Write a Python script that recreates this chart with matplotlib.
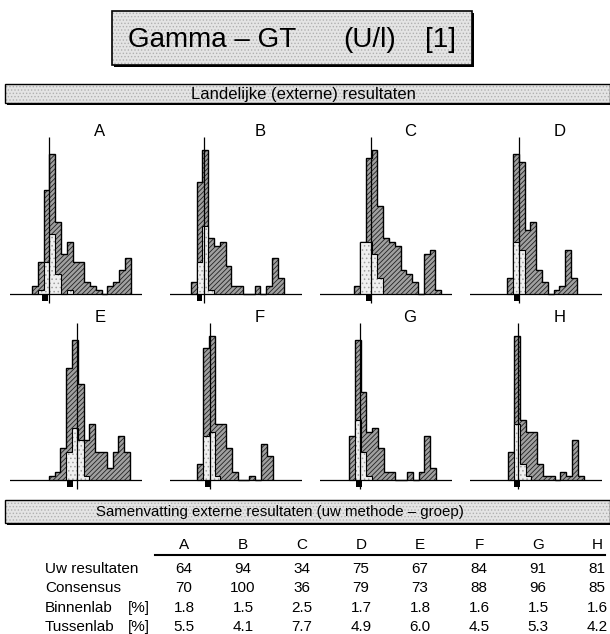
import numpy as np
import matplotlib
matplotlib.use("Agg")
import matplotlib.pyplot as plt
from matplotlib.patches import Rectangle

plt.rcParams['font.family'] = ['Liberation Sans', 'DejaVu Sans']
plt.rcParams['hatch.linewidth'] = 0.6

# ---- data ----
panels = ['A', 'B', 'C', 'D', 'E', 'F', 'G', 'H']

# national histogram (number of labs per bin)
national = {
    'A': [2, 8, 26, 35, 18, 10, 13, 8, 8, 3, 2, 1, 0, 2, 3, 6, 9],
    'B': [3, 28, 36, 14, 12, 13, 7, 2, 2, 0, 0, 2, 0, 2, 9, 4],
    'C': [2, 13, 34, 36, 22, 14, 13, 12, 6, 5, 3, 0, 10, 11, 1],
    'D': [4, 35, 33, 16, 18, 6, 3, 0, 1, 2, 11, 4],
    'E': [1, 2, 8, 28, 35, 24, 10, 14, 7, 7, 3, 7, 11, 7],
    'F': [4, 33, 36, 14, 14, 8, 2, 0, 0, 1, 0, 9, 6],
    'G': [11, 35, 22, 12, 13, 8, 2, 2, 0, 0, 2, 0, 2, 11, 3],
    'H': [7, 36, 15, 12, 12, 4, 1, 1, 0, 2, 1, 10, 1],
}
# own method group histogram
group = {
    'A': [0, 1, 8, 15, 5, 0, 1],
    'B': [0, 8, 17, 1],
    'C': [0, 13, 13, 10, 4],
    'D': [0, 13, 11],
    'E': [0, 0, 0, 7, 13, 10, 1],
    'F': [0, 11, 12, 1],
    'G': [0, 15, 7, 1],
    'H': [0, 14, 4, 1],
}
# consensus and own result, in bin units
consensus_pos = [3.0, 2.24, 2.86, 2.06, 4.9, 2.18, 1.88, 1.76]
own_pos = [2.3, 1.5, 2.57, 1.65, 3.6, 1.76, 1.7, 1.47]

row_labels = ['Uw resultaten', 'Consensus', 'Binnenlab', 'Tussenlab']
uw_resultaten = ['64', '94', '34', '75', '67', '84', '91', '81']
consensus = ['70', '100', '36', '79', '73', '88', '96', '85']
binnenlab = ['1.8', '1.5', '2.5', '1.7', '1.8', '1.6', '1.5', '1.6']
tussenlab = ['5.5', '4.1', '7.7', '4.9', '6.0', '4.5', '5.3', '4.2']

# ---- layout (pixels) ----
W, H = 610, 634
fig = plt.figure(figsize=(W / 100, H / 100), dpi=100)

base = fig.add_axes([0, 0, 1, 1])
base.set_xlim(0, W)
base.set_ylim(H, 0)
base.axis('off')


def box(x0, y0, x1, y1, lw=1.2):
    # dotted grey fill, black frame with a small shadow
    base.add_patch(Rectangle((x0 + 2, y0 + 2), x1 - x0, y1 - y0,
                             facecolor='black', edgecolor='none', zorder=1))
    base.add_patch(Rectangle((x0, y0), x1 - x0, y1 - y0, facecolor='#e4e4e4',
                             edgecolor='#b0b0b0', hatch='.....', lw=0, zorder=2))
    base.add_patch(Rectangle((x0, y0), x1 - x0, y1 - y0, facecolor='none',
                             edgecolor='black', lw=lw, zorder=3))


box(112, 11, 472, 65)
base.text(128, 40, 'Gamma – GT', fontsize=20, va='center', ha='left', zorder=4)
base.text(343, 40, '(U/l)', fontsize=20, va='center', ha='left', zorder=4)
base.text(425, 40, '[1]', fontsize=20, va='center', ha='left', zorder=4)

box(5, 84, 610, 103, lw=1.0)
base.text(303, 94, 'Landelijke (externe) resultaten', fontsize=12,
          va='center', ha='center', zorder=4)

box(5, 500, 610, 523, lw=1.0)
base.text(280, 512, 'Samenvatting externe resultaten (uw methode – groep)',
          fontsize=10.8, va='center', ha='center', zorder=4)

# ---- histograms ----
col_left = [0, 160, 310, 460]
row_base = [294, 480]
start_off = [3.8, 3.6, 5.9, 6.4, 6.7, 4.7, 5.0, 6.6]
px_unit_x = 5.8
px_unit_y = 4.0
ax_w = 132

for i, name in enumerate(panels):
    r, c = divmod(i, 4)
    left = col_left[c] + 10
    top = row_base[r] - 159
    bottom = row_base[r] + 11
    ax = fig.add_axes([left / W, 1 - bottom / H, ax_w / W, (bottom - top) / H])
    ax.set_xlim(0, ax_w / px_unit_x)
    ax.set_ylim(-(bottom - row_base[r]) / px_unit_y, (row_base[r] - top) / px_unit_y)
    ax.axis('off')

    s = start_off[i]
    nat = np.array(national[name], dtype=float)
    edges = s + np.arange(len(nat) + 1)
    ax.stairs(nat, edges, baseline=0, fill=True, facecolor='#a0a0a0',
              edgecolor='#222222', hatch='///////', lw=0)
    ax.stairs(nat, edges, baseline=0, color='black', lw=1.0)

    grp = np.array(group[name], dtype=float)
    gedges = s + np.arange(len(grp) + 1)
    ax.stairs(grp, gedges, baseline=0, fill=True, facecolor='#efefef',
              edgecolor='#a0a0a0', hatch='....', lw=0)
    ax.stairs(grp, gedges, baseline=0, color='black', lw=0.8)

    ax.axhline(0, color='black', lw=0.9)
    ax.vlines(s + consensus_pos[i], -2.3, 39.3, color='black', lw=0.9)
    ax.bar(s + own_pos[i], -1.6, width=1.0, bottom=-0.1, color='black')

    base.text(col_left[c] + 100, row_base[r] - 162, name, fontsize=12,
              ha='center', va='center')

# ---- summary table ----
col_x = [184, 243, 302, 361, 420, 479, 538, 597]
for x, name in zip(col_x, panels):
    base.text(x, 545, name, fontsize=11, ha='center', va='center')
base.plot([155, 605], [555, 555], color='black', lw=1.5)

rows = [uw_resultaten, consensus, binnenlab, tussenlab]
row_y = [569, 588, 608, 627]
for label, vals, y in zip(row_labels, rows, row_y):
    base.text(45, y, label, fontsize=11, ha='left', va='center')
    if label in ('Binnenlab', 'Tussenlab'):
        base.text(128, y, '[%]', fontsize=11, ha='left', va='center')
    for x, v in zip(col_x, vals):
        base.text(x, y, v, fontsize=11, ha='center', va='center')

fig.savefig('out.png', dpi=100)
